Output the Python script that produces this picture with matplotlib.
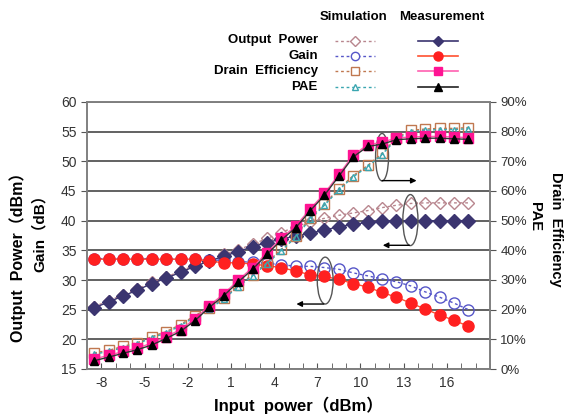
import matplotlib
matplotlib.use("Agg")
import matplotlib.pyplot as plt
from matplotlib.patches import Ellipse
from matplotlib.lines import Line2D
from matplotlib.ticker import MultipleLocator

plt.rcParams['font.family'] = ['Liberation Sans', 'Noto Sans CJK SC']

# input power points (dBm)
input_power = [-8.5, -7.5, -6.5, -5.5, -4.5, -3.5, -2.5, -1.5, -0.5, 0.5, 1.5, 2.5, 3.5,
               4.5, 5.5, 6.5, 7.5, 8.5, 9.5, 10.5, 11.5, 12.5, 13.5, 14.5, 15.5, 16.5, 17.5]

# output power (dBm)
pout_sim = [25.5, 26.5, 27.5, 28.5, 29.6, 30.5, 31.5, 32.5, 33.4, 34.3, 35.1, 36.0, 37.0,
            38.0, 39.0, 39.8, 40.4, 40.9, 41.3, 41.7, 42.2, 42.6, 42.9, 43.0, 43.0, 43.0, 43.0]
pout_meas = [25.3, 26.3, 27.3, 28.3, 29.4, 30.3, 31.3, 32.3, 33.2, 34.0, 34.8, 35.6, 36.3,
             36.9, 37.4, 37.9, 38.4, 39.0, 39.4, 39.7, 39.9, 40.0, 40.0, 40.0, 40.0, 40.0, 40.0]

# gain (dB)
gain_sim = [33.6, 33.6, 33.6, 33.6, 33.6, 33.5, 33.5, 33.5, 33.4, 33.3, 33.1, 33.0, 32.8,
            32.6, 32.3, 32.3, 32.1, 31.8, 31.2, 30.7, 30.2, 29.7, 29.0, 28.0, 27.1, 26.1, 25.0]
gain_meas = [33.5, 33.5, 33.5, 33.5, 33.5, 33.5, 33.5, 33.5, 33.2, 32.9, 32.9, 32.7, 32.4,
             32.1, 31.5, 30.9, 30.6, 30.1, 29.4, 28.8, 27.9, 27.1, 26.1, 25.1, 24.1, 23.2, 22.2]

# drain efficiency and PAE (%)
de_sim = [5.4, 6.3, 7.6, 8.9, 10.9, 12.6, 15.0, 18.0, 20.7, 23.9, 28.2, 31.8, 35.9,
          40.3, 44.8, 50.9, 55.6, 60.8, 65.2, 68.6, 72.7, 77.9, 80.4, 80.9, 81.1, 81.1, 81.4]
de_meas = [3.4, 4.6, 5.9, 7.1, 8.7, 10.9, 13.3, 16.9, 21.4, 25.3, 29.9, 34.2, 39.2,
           44.1, 48.2, 53.9, 59.2, 65.6, 72.1, 75.6, 76.4, 77.9, 78.2, 78.4, 78.4, 78.2, 78.0]
pae_sim = [5.0, 5.9, 7.2, 8.5, 10.5, 12.2, 14.6, 17.6, 20.3, 23.5, 27.8, 31.4, 35.5,
           39.9, 44.4, 50.5, 55.2, 60.4, 64.8, 68.2, 72.3, 77.5, 80.0, 80.5, 80.7, 80.7, 81.0]
pae_meas = [2.8, 4.0, 5.3, 6.5, 8.1, 10.3, 12.7, 16.3, 20.8, 24.7, 29.3, 33.6, 38.6,
            43.5, 47.6, 53.3, 58.6, 65.0, 71.5, 75.0, 75.8, 77.3, 77.6, 77.8, 77.8, 77.6, 77.4]

x_labels = [-8, -5, -2, 1, 4, 7, 10, 13, 16]
left_ticks = [15, 20, 25, 30, 35, 40, 45, 50, 55, 60]
right_ticks = [0, 10, 20, 30, 40, 50, 60, 70, 80, 90]

# colours
c_pout = "#3b3570"
c_pout_s = "#b8868e"
c_gain = "#ff2020"
c_gain_s = "#5656c8"
c_de = "#ff1493"
c_de_s = "#c07850"
c_pae = "#000000"
c_pae_s = "#3aa6b0"

fig = plt.figure(figsize=(5.79, 4.16), dpi=100)
ax = fig.add_axes([87 / 579, 1 - 369 / 416, (490 - 87) / 579, (369 - 102) / 416])
ax2 = ax.twinx()

dot = (0, (2, 2))

# simulation (hollow, dotted)
ax.plot(input_power, pout_sim, linestyle=dot, color=c_pout_s, lw=1, marker="D", ms=6.5,
        mfc="none", mec=c_pout_s, mew=1)
ax.plot(input_power, gain_sim, linestyle=dot, color=c_gain_s, lw=1, marker="o", ms=8,
        mfc="none", mec=c_gain_s, mew=1)
ax2.plot(input_power, de_sim, linestyle=dot, color=c_de_s, lw=1, marker="s", ms=6.5,
         mfc="none", mec=c_de_s, mew=1)
ax2.plot(input_power, pae_sim, linestyle=dot, color=c_pae_s, lw=1, marker="^", ms=4.5,
         mfc="none", mec=c_pae_s, mew=1)

# measurement (filled, solid)
ax.plot(input_power, pout_meas, color=c_pout, lw=1, marker="D", ms=7, mfc=c_pout, mec=c_pout)
ax.plot(input_power, gain_meas, color="#ff5030", lw=1, marker="o", ms=8, mfc=c_gain, mec=c_gain)
ax2.plot(input_power, de_meas, color="#ff60b0", lw=1, marker="s", ms=6.5, mfc=c_de, mec=c_de)
ax2.plot(input_power, pae_meas, color="#333333", lw=1, marker="^", ms=6, mfc=c_pae, mec=c_pae)

# axes
ax.set_xlim(-9, 19)
ax.set_ylim(15, 60)
ax2.set_ylim(0, 90)
ax.set_xticks(x_labels)
ax.set_xticklabels([str(v) for v in x_labels])
ax.xaxis.set_minor_locator(MultipleLocator(1))
ax.set_yticks(left_ticks)
ax2.set_yticks(right_ticks)
ax2.set_yticklabels([f"{v}%" for v in right_ticks])
ax.tick_params(axis="x", which="both", direction="in", length=4, color="#555555",
               labelsize=10, labelcolor="#333333", pad=5)
ax.tick_params(axis="y", length=4, color="#555555", labelsize=10, labelcolor="#333333")
ax2.tick_params(axis="y", length=4, color="#555555", labelsize=9.5, labelcolor="#333333")
ax.yaxis.grid(True, color="#555555", lw=1.3)
ax.set_axisbelow(True)
for a in (ax, ax2):
    for s in a.spines.values():
        s.set_color("#808080")
        s.set_linewidth(1.2)

# ellipses and arrows
ell_kw = dict(fill=False, ec="#555555", lw=1, transform=ax.transData)
ax2.add_patch(Ellipse((11.5, 50.7), 0.9, 8.0, **ell_kw))
ax2.add_patch(Ellipse((13.47, 40.1), 1.05, 8.6, **ell_kw))
ax2.add_patch(Ellipse((7.55, 29.9), 1.1, 7.9, **ell_kw))
arr = dict(arrowstyle="-|>", color="black", lw=1, mutation_scale=8, shrinkA=0, shrinkB=0)
ax2.annotate("", xy=(13.9, 46.75), xytext=(11.5, 46.75), xycoords=ax.transData,
             textcoords=ax.transData, arrowprops=arr)
ax2.annotate("", xy=(11.55, 35.85), xytext=(13.4, 35.85), xycoords=ax.transData,
             textcoords=ax.transData, arrowprops=arr)
ax2.annotate("", xy=(5.55, 25.95), xytext=(7.45, 25.95), xycoords=ax.transData,
             textcoords=ax.transData, arrowprops=arr)

# axis titles
fig.text(18 / 579, 1 - 253 / 416, "Output  Power（dBm）", rotation=90,
         ha="center", va="center", fontsize=11.5, fontweight="bold")
fig.text(40 / 579, 1 - 230 / 416, "Gain（dB）", rotation=90,
         ha="center", va="center", fontsize=11, fontweight="bold")
fig.text(556 / 579, 1 - 229 / 416, "Drain  Efficiency", rotation=270,
         ha="center", va="center", fontsize=10.5, fontweight="bold")
fig.text(535 / 579, 1 - 217 / 416, "PAE", rotation=270,
         ha="center", va="center", fontsize=10.5, fontweight="bold")
fig.text(298 / 579, 1 - 405 / 416, "Input  power（dBm）", ha="center", va="center",
         fontsize=12, fontweight="bold")

# legend table
fig.text(354 / 579, 1 - 17 / 416, "Simulation", ha="center", va="center",
         fontsize=9.5, fontweight="bold")
fig.text(442 / 579, 1 - 17 / 416, "Measurement", ha="center", va="center",
         fontsize=9.5, fontweight="bold")
rows = [
    ("Output  Power", 40.5, c_pout_s, "D", 5, c_pout, c_pout, c_pout, 5.5),
    ("Gain", 56, c_gain_s, "o", 6, "#ff5030", c_gain, c_gain, 6.5),
    ("Drain  Efficiency", 71, c_de_s, "s", 6, "#ff60b0", c_de, c_de, 6),
    ("PAE", 86.5, c_pae_s, "^", 5, "#222222", c_pae, c_pae, 5.5),
]
for label, py, sc, mk, sms, lc, mfc, mec, mms in rows:
    yf = 1 - py / 416
    fig.text(318 / 579, yf, label, ha="right", va="center", fontsize=9.5, fontweight="bold")
    fig.add_artist(Line2D([335 / 579, 375 / 579], [yf, yf], transform=fig.transFigure,
                          color=sc, lw=1, linestyle=dot))
    fig.add_artist(Line2D([355 / 579], [yf], transform=fig.transFigure, marker=mk,
                          ms=sms, mfc="white", mec=sc, mew=1, linestyle="none"))
    fig.add_artist(Line2D([418 / 579, 458 / 579], [yf, yf], transform=fig.transFigure,
                          color=lc, lw=1.2))
    fig.add_artist(Line2D([438 / 579], [yf], transform=fig.transFigure, marker=mk,
                          ms=mms, mfc=mfc, mec=mec, linestyle="none"))

plt.savefig("out.png", dpi=100)
